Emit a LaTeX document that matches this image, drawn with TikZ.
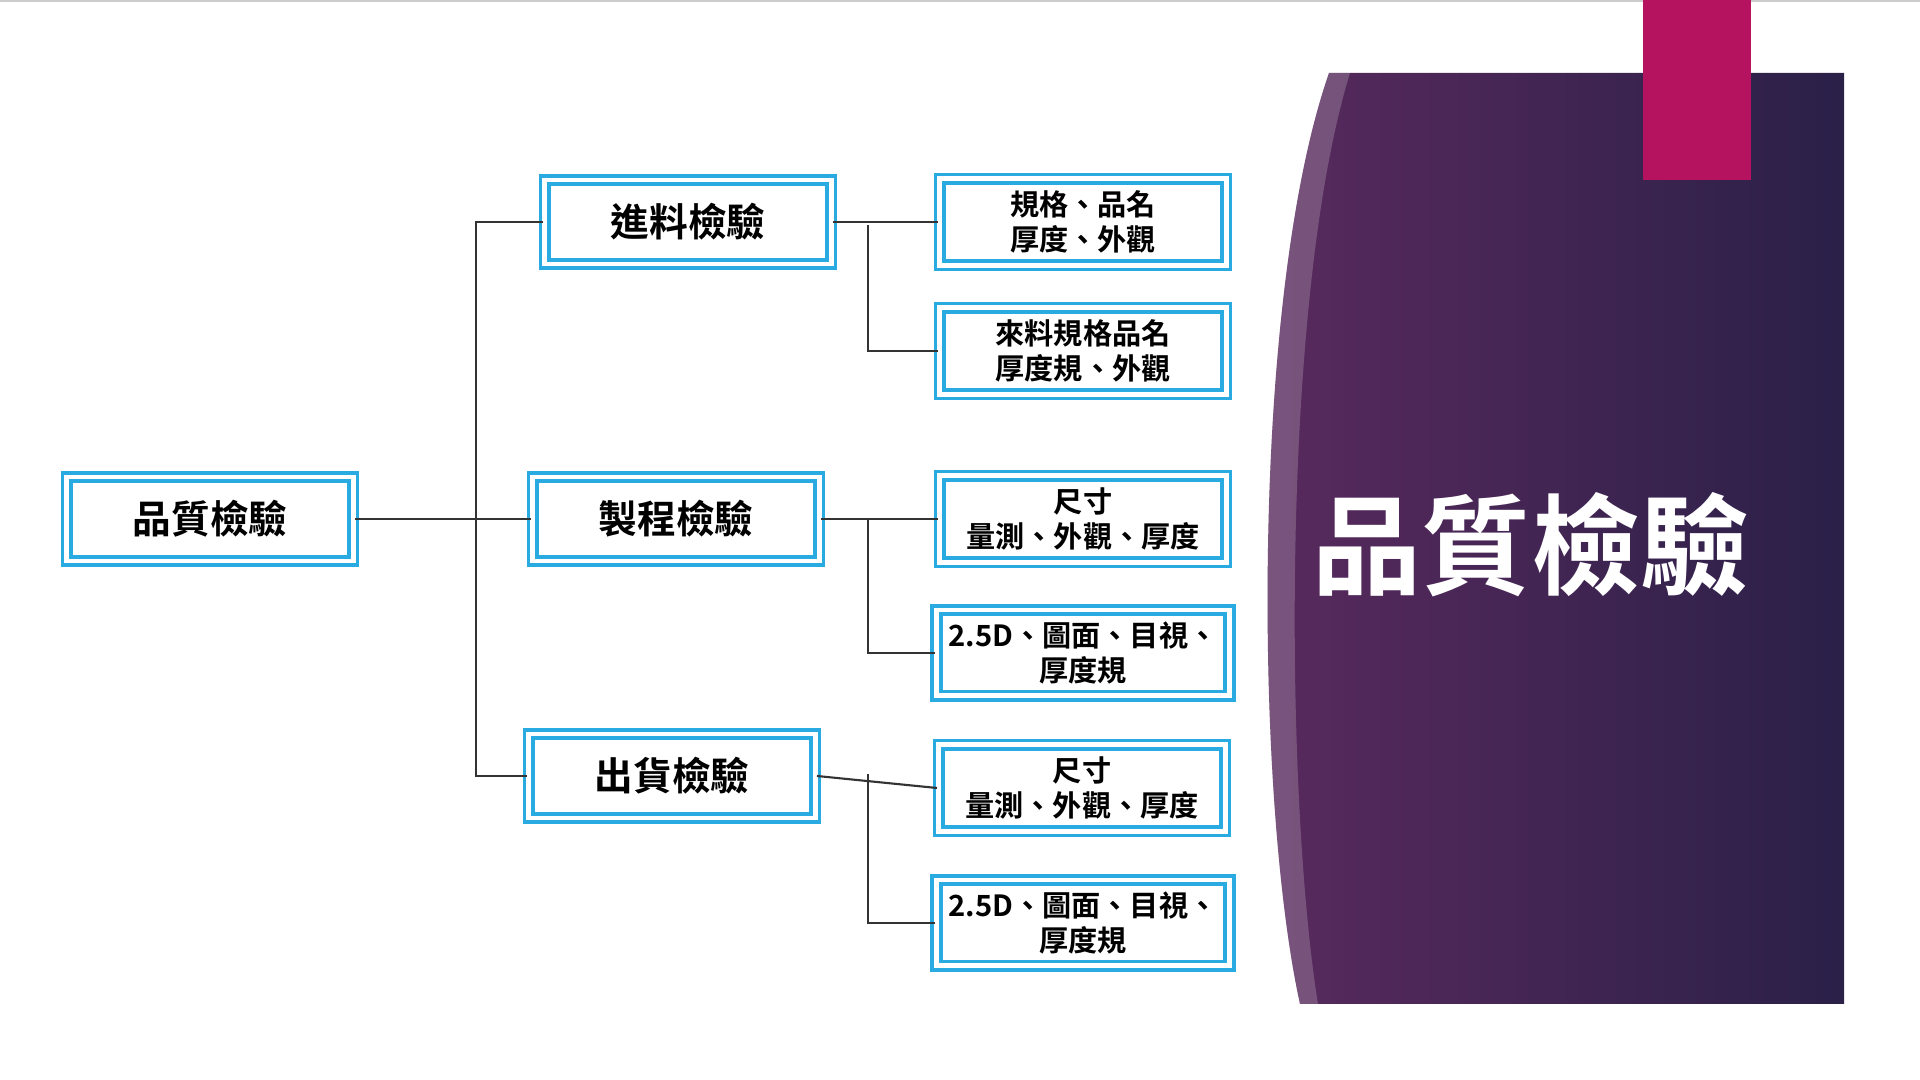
\documentclass[tikz,border=0pt]{standalone}
\usepackage{fontspec}
\setmainfont{Noto Sans CJK TC}[BoldFont={* Bold}]
\usetikzlibrary{positioning}
\definecolor{boxblue}{HTML}{29ABE2}
\definecolor{tabpink}{HTML}{B5135F}
\definecolor{panleft}{HTML}{5A2A5E}
\definecolor{panright}{HTML}{2A2048}
\begin{document}
\begin{tikzpicture}[x=0.01cm,y=-0.01cm]
\tikzstyle{block} = [rectangle, draw=boxblue, line width=1.1pt, double=white,
  double distance=1.4pt, minimum width=2.86cm, minimum height=0.84cm,
  align=center, font=\bfseries]
\tikzstyle{main} = [block, font=\bfseries\fontsize{11pt}{13pt}\selectfont]
\tikzstyle{leaf} = [block, font=\bfseries\fontsize{8.3pt}{10pt}\selectfont]
\tikzstyle{line} = [draw, black!80, line width=0.6pt]
\useasboundingbox (0,0) rectangle (1920,1080);
\draw[black!20] (0,1) -- (1920,1);
% panel
\shade[left color=panleft, right color=panright]
  (1329,73) -- (1844,73) -- (1844,1004) -- (1300,1004)
  .. controls (1255,800) and (1250,300) .. (1329,73);
\fill[white, opacity=0.2] (1329,73) -- (1350,73)
  .. controls (1280,300) and (1285,800) .. (1318,1004) -- (1300,1004)
  .. controls (1255,800) and (1250,300) .. (1329,73);
\fill[tabpink] (1643,0) rectangle (1751,180);
\node[text=white, font=\bfseries\fontsize{31pt}{34pt}\selectfont] (title) at (1531,545) {品質檢驗};
% level 1
\node[main] (root) at (210,519) {品質檢驗};
\node[main] (incoming) at (688,222) {進料檢驗};
\node[main] (process) at (676,519) {製程檢驗};
\node[main] (shipping) at (672,776) {出貨檢驗};
% leaves
\node[leaf] (in_a) at (1083,222) {規格、品名\\厚度、外觀};
\node[leaf] (in_b) at (1083,351) {來料規格品名\\厚度規、外觀};
\node[leaf] (pr_a) at (1083,519) {尺寸\\量測、外觀、厚度};
\node[leaf] (pr_b) at (1083,653) {2.5D、圖面、目視、\\厚度規};
\node[leaf] (sh_a) at (1082,788) {尺寸\\量測、外觀、厚度};
\node[leaf] (sh_b) at (1083,923) {2.5D、圖面、目視、\\厚度規};
% connectors
\coordinate (trunk) at (476,519);
\path[line] (root.east) -- (process.west);
\path[line] (incoming.west) -| (trunk) |- (shipping.west);
\path[line] (incoming.east) -- (in_a.west);
\path[line] (in_b.west) -| (868,225);
\path[line] (process.east) -- (pr_a.west);
\path[line] (pr_b.west) -| (868,520);
\path[line] (shipping.east) -- (sh_a.west);
\path[line] (sh_b.west) -| (868,774);
\end{tikzpicture}
\end{document}
